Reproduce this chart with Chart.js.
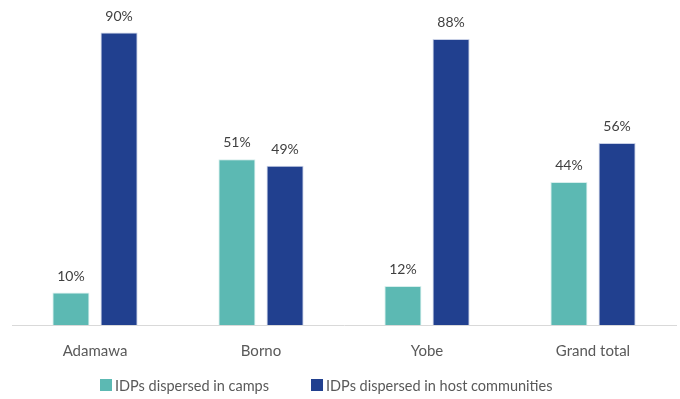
<!DOCTYPE html>
<html>
<head>
<meta charset="utf-8">
<script src="https://cdn.jsdelivr.net/npm/chart.js@4"></script>
<style>
  html, body { margin: 0; padding: 0; background: #fff; }
  #wrap { width: 680px; height: 399px; }
</style>
</head>
<body>
<div id="wrap"><canvas id="idpChart"></canvas></div>
<script>
const states = ['Adamawa', 'Borno', 'Yobe', 'Grand total'];
const inCamps = [10, 51, 12, 44];
const inHostCommunities = [90, 49, 88, 56];

const FONT = 'Lato, "Open Sans", sans-serif';
Chart.defaults.font.family = FONT;
Chart.defaults.color = '#595959';

// percent labels above every bar
const barLabels = {
  id: 'barLabels',
  afterDatasetsDraw(chart) {
    const ctx = chart.ctx;
    ctx.save();
    ctx.font = '14px ' + FONT;
    ctx.fillStyle = '#404040';
    ctx.textAlign = 'center';
    ctx.textBaseline = 'alphabetic';
    chart.data.datasets.forEach((ds, i) => {
      chart.getDatasetMeta(i).data.forEach((bar, j) => {
        ctx.fillText(ds.data[j] + '%', bar.x, bar.y - 12);
      });
    });
    ctx.restore();
  }
};

// legend row under the axis labels
const bottomLegend = {
  id: 'bottomLegend',
  afterDraw(chart) {
    const ctx = chart.ctx;
    const box = 12, gap = 3, itemGap = 42;
    const y = chart.height - 14;
    ctx.save();
    ctx.font = '14.5px ' + FONT;
    ctx.textBaseline = 'middle';
    let x = 100;
    chart.data.datasets.forEach(ds => {
      ctx.fillStyle = ds.backgroundColor;
      ctx.fillRect(x, y - box / 2, box, box);
      ctx.fillStyle = '#595959';
      ctx.fillText(ds.label, x + box + gap, y + 1);
      x += box + gap + ctx.measureText(ds.label).width + itemGap;
    });
    ctx.restore();
  }
};

new Chart(document.getElementById('idpChart'), {
  type: 'bar',
  data: {
    labels: states,
    datasets: [
      {
        label: 'IDPs dispersed in camps',
        data: inCamps,
        backgroundColor: '#5CB9B3',
        borderColor: '#d6eeec',
        borderWidth: 1,
        categoryPercentage: 0.58,
        barPercentage: 0.77
      },
      {
        label: 'IDPs dispersed in host communities',
        data: inHostCommunities,
        backgroundColor: '#21408F',
        borderColor: '#c8d0e6',
        borderWidth: 1,
        categoryPercentage: 0.58,
        barPercentage: 0.77
      }
    ]
  },
  options: {
    responsive: true,
    maintainAspectRatio: false,
    animation: false,
    layout: { padding: { left: 12, right: 4, top: 0, bottom: 30 } },
    scales: {
      x: {
        grid: { display: false },
        border: { color: '#d9d9d9', width: 1 },
        ticks: { padding: 9, color: '#595959', font: { size: 15 } }
      },
      y: {
        display: false,
        min: 0,
        max: 100
      }
    },
    plugins: {
      legend: { display: false },
      tooltip: { enabled: false }
    }
  },
  plugins: [barLabels, bottomLegend]
});
</script>
</body>
</html>
